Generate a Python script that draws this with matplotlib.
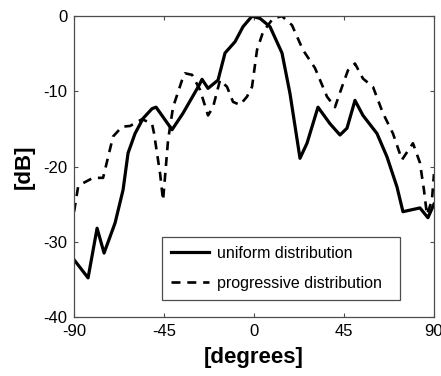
import numpy as np
import matplotlib

matplotlib.use("Agg")

import matplotlib.pyplot as plt

plt.rcParams["font.family"] = ["Liberation Sans", "DejaVu Sans"]
plt.rcParams["axes.unicode_minus"] = False

# uniform distribution (solid)
uni_deg = [-90, -83, -78.5, -75, -69.5, -65.5, -63, -59.5, -55.5, -51, -49,
           -41, -35.5, -27.5, -26, -23, -18, -14.5, -9.5, -5.5, -1, 3, 8, 14,
           18, 23, 26.5, 32, 38, 43, 46.5, 50.5, 54.5, 61.5, 66.5, 71.5, 74.5,
           83, 87, 90]
uni_db = [-32.4, -34.8, -28.2, -31.5, -27.5, -23.1, -18.2, -15.6, -13.6, -12.3,
          -12.1, -15.1, -12.9, -9.2, -8.4, -9.6, -8.5, -4.9, -3.4, -1.4, 0,
          -0.3, -1.4, -4.9, -10.3, -18.9, -16.9, -12.1, -14.3, -15.8, -14.9,
          -11.2, -13.2, -15.6, -18.7, -22.7, -26, -25.5, -26.8, -25]

# progressive distribution (dashed)
prog_deg = [-90, -88, -85.5, -80.5, -75.5, -73.5, -70.5, -66, -62, -56, -51,
            -50, -47, -45.5, -43, -40.5, -36, -34.5, -31, -27, -23, -20.5, -17,
            -13.5, -10.5, -7, -3.5, -1, 1.5, 4.5, 9.5, 14, 19, 24.5, 30.5, 36.5,
            40.5, 44, 47, 50.5, 54.5, 59.5, 64.5, 69.5, 74, 79.5, 83, 85, 86.5,
            89, 90]
prog_db = [-26, -22.7, -22.2, -21.5, -21.5, -19.3, -16, -14.7, -14.6, -13.7,
           -14.3, -15.6, -20.9, -24.5, -16.5, -12.1, -8.5, -7.6, -7.8, -9.8,
           -13.2, -12.1, -8.5, -9.4, -11.4, -11.8, -10.7, -9.4, -4.5, -2.1,
           -0.3, 0, -1.2, -4.5, -6.9, -10.7, -12.1, -9.4, -7.2, -6.3, -8.3,
           -9.4, -12.9, -15.6, -19.1, -16.9, -19.5, -23.1, -26.4, -24.5, -21]

x_ticks = [-90, -45, 0, 45, 90]
y_ticks = [0, -10, -20, -30, -40]

fig = plt.figure(figsize=(4.41, 3.76), dpi=100)
ax = fig.add_axes([0.168, 0.157, 0.816, 0.8])

ax.plot(uni_deg, uni_db, color="black", lw=2.3, label="uniform distribution")
ax.plot(prog_deg, prog_db, color="black", lw=1.9, linestyle=(0, (3.4, 2.6)),
        label="progressive distribution")

ax.set_xlim(-90, 90)
ax.set_ylim(-40, 0)
ax.set_xticks(x_ticks)
ax.set_yticks(y_ticks)
ax.tick_params(direction="in", length=3, width=0.8, top=True, right=True,
               labelsize=12, pad=5, color="0.3")
for sp in ax.spines.values():
    sp.set_color("0.3")
    sp.set_linewidth(0.9)

ax.set_xlabel("[degrees]", fontsize=16, fontweight="bold", labelpad=6)
ax.set_ylabel("[dB]", fontsize=16, fontweight="bold", labelpad=6)

leg = ax.legend(loc="upper left", bbox_to_anchor=(0.244, 0.266, 0.662, 0.0),
                mode="expand", borderaxespad=0, fancybox=False, fontsize=11.5,
                handlelength=2.4, handletextpad=0.5, labelspacing=0.95,
                borderpad=0.55)
leg.get_frame().set_edgecolor("0.3")
leg.get_frame().set_linewidth(0.9)
leg.get_frame().set_alpha(1)

fig.savefig("out.png", dpi=100)
